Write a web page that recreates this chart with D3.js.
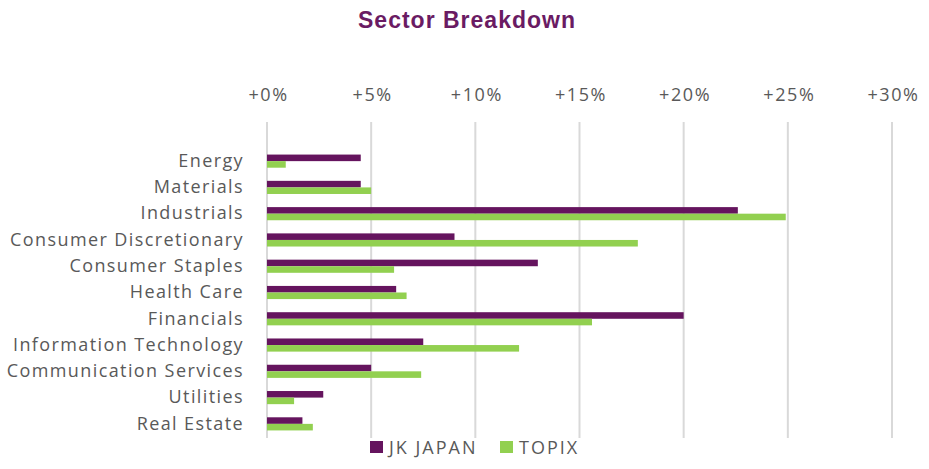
<!DOCTYPE html>
<html>
<head>
<meta charset="utf-8">
<script src="https://cdn.jsdelivr.net/npm/d3@7"></script>
<style>
  body { margin: 0; background: #fff; }
  text { font-family: "Open Sans", "Noto Sans", sans-serif; }
</style>
</head>
<body>
<svg id="chart"></svg>
<script>
// chart data
let sectors = ["Energy", "Materials", "Industrials", "Consumer Discretionary", "Consumer Staples",
  "Health Care", "Financials", "Information Technology", "Communication Services", "Utilities", "Real Estate"]
let jkJapan = [4.5, 4.5, 22.6, 9.0, 13.0, 6.2, 20.0, 7.5, 5.0, 2.7, 1.7]
let topix   = [0.9, 5.0, 24.9, 17.8, 6.1, 6.7, 15.6, 12.1, 7.4, 1.3, 2.2]
let xTicks = [0, 5, 10, 15, 20, 25, 30]
let seriesNames = ["JK JAPAN", "TOPIX"]

let width = 929, height = 469
let colors = {"JK JAPAN": "#65145e", "TOPIX": "#92d050"}

let svg = d3.select("#chart")
    .attr("width", width)
    .attr("height", height)

// title
svg.append("text")
  .attr("x", 467).attr("y", 28)
  .attr("text-anchor", "middle")
  .style("font-family", "'Liberation Sans Narrow', 'Liberation Sans', sans-serif")
  .style("font-weight", "bold")
  .style("font-size", "23px")
  .style("letter-spacing", "1px")
  .attr("fill", "#6a1b63")
  .text("Sector Breakdown")

let x = d3.scaleLinear().domain([0, 30]).range([267, 892])
let y = d3.scaleBand().domain(sectors).range([148, 437]).paddingInner(0.5).paddingOuter(0.25)
let sub = d3.scaleBand().domain(seriesNames).range([0, y.bandwidth()])

// gridlines
svg.append("g").selectAll("line")
  .data(xTicks)
  .enter().append("line")
  .attr("x1", d => x(d)).attr("x2", d => x(d))
  .attr("y1", 122).attr("y2", 438)
  .attr("stroke", "#d9d9d9")
  .attr("stroke-width", 2)

// top axis labels
let xAxis = d3.axisTop(x).tickValues(xTicks).tickSize(0).tickFormat(d => "+" + d + "%")
svg.append("g")
  .attr("transform", "translate(0,101)")
  .call(xAxis)
  .call(g => g.select(".domain").remove())
  .selectAll("text")
  .attr("y", 0).attr("dy", 0)
  .attr("x", 1)
  .attr("fill", "#595959")
  .style("font-size", "18px")
  .style("letter-spacing", "1.6px")
  .style("font-family", "'Open Sans', sans-serif")

// category labels
let yAxis = d3.axisLeft(y).tickSize(0).tickPadding(0)
svg.append("g")
  .attr("transform", "translate(244,0)")
  .call(yAxis)
  .call(g => g.select(".domain").remove())
  .selectAll("text")
  .attr("fill", "#595959")
  .style("font-size", "18px")
  .style("letter-spacing", "1.4px")
  .style("font-family", "'Open Sans', sans-serif")

// bars
let rows = sectors.map((s, i) => ({sector: s, values: [
  {name: "JK JAPAN", value: jkJapan[i]},
  {name: "TOPIX", value: topix[i]}
]}))

svg.append("g").selectAll("g")
  .data(rows)
  .enter().append("g")
  .attr("transform", d => "translate(0," + y(d.sector) + ")")
  .selectAll("rect")
  .data(d => d.values)
  .enter().append("rect")
  .attr("x", x(0))
  .attr("y", d => sub(d.name))
  .attr("width", d => x(d.value) - x(0))
  .attr("height", sub.bandwidth())
  .attr("fill", d => colors[d.name])

// legend
let legendX = [370, 500]
let legend = svg.append("g").selectAll("g")
  .data(seriesNames)
  .enter().append("g")
  .attr("transform", (d, i) => "translate(" + legendX[i] + ",441)")
legend.append("rect")
  .attr("width", 13).attr("height", 12)
  .attr("fill", d => colors[d])
legend.append("text")
  .attr("x", 19).attr("y", 12.5)
  .attr("fill", "#595959")
  .style("font-size", "18px")
  .style("letter-spacing", "2px")
  .text(d => d)
</script>
</body>
</html>
